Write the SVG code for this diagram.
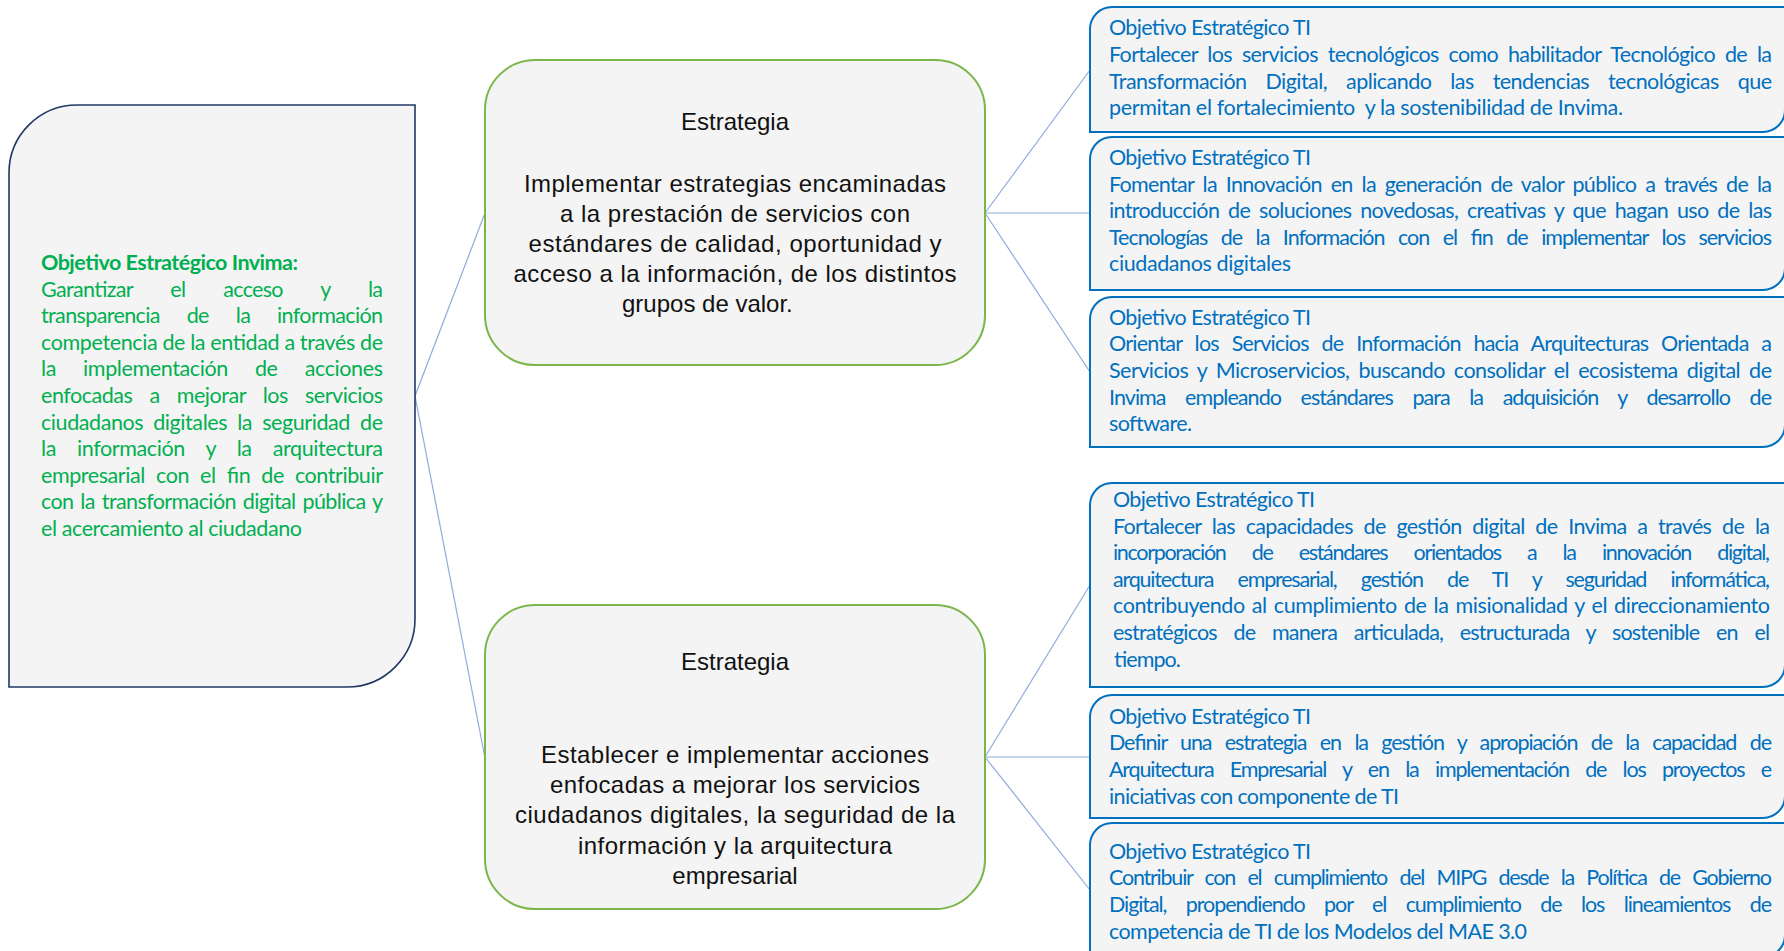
<svg xmlns="http://www.w3.org/2000/svg" width="1784" height="951" viewBox="0 0 1784 951">
<style>
.inv{fill:#F4F4F4;stroke:#1F3864;stroke-width:1.6}
.str{fill:#F4F4F4;stroke:#7AB648;stroke-width:2}
.obj{fill:#F4F4F4;stroke:#0070C0;stroke-width:2}
.conn line{stroke:#8FAADC;stroke-width:1.2;fill:none}
.tg{font-family:Lato,"Noto Sans",sans-serif;font-size:21.5px;fill:#00B050}
.tb{font-family:Lato,"Noto Sans",sans-serif;font-size:21.5px;fill:#0070C0}
.ts{font-family:"Liberation Sans",Arial,sans-serif;font-size:24px;fill:#111111;text-anchor:middle}
.bold{font-weight:bold}
</style>
<rect width="1784" height="951" fill="#FFFFFF"/>
<g id="connectors" class="conn">
<line x1="415" y1="396" x2="485" y2="213"/>
<line x1="415" y1="396" x2="485" y2="758"/>
<line x1="985" y1="213" x2="1090" y2="70"/>
<line x1="985" y1="213" x2="1090" y2="213"/>
<line x1="985" y1="213" x2="1090" y2="372"/>
<line x1="985" y1="757" x2="1090" y2="585"/>
<line x1="985" y1="757" x2="1090" y2="757"/>
<line x1="985" y1="757" x2="1090" y2="890"/>
</g>
<g id="objetivo-invima">
<path class="inv" d="M77,105 H415 V619 A68,68 0 0 1 347,687 H9 V173 A68,68 0 0 1 77,105 Z"/>
<text class="tg bold" x="41" y="270" textLength="257">Objetivo Estratégico Invima:</text>
<text class="tg" x="41" y="296.6" textLength="342" word-spacing="33">Garantizar el acceso y la</text>
<text class="tg" x="41" y="323.2" textLength="342" word-spacing="22">transparencia de la información</text>
<text class="tg" x="41" y="349.8" textLength="342">competencia de la entidad a través de</text>
<text class="tg" x="41" y="376.4" textLength="342" word-spacing="22">la implementación de acciones</text>
<text class="tg" x="41" y="403" textLength="342" word-spacing="12">enfocadas a mejorar los servicios</text>
<text class="tg" x="41" y="429.6" textLength="342" word-spacing="5">ciudadanos digitales la seguridad de</text>
<text class="tg" x="41" y="456.2" textLength="342" word-spacing="16">la información y la arquitectura</text>
<text class="tg" x="41" y="482.8" textLength="342" word-spacing="6">empresarial con el fin de contribuir</text>
<text class="tg" x="41" y="509.4" textLength="342" word-spacing="2">con la transformación digital pública y</text>
<text class="tg" x="41" y="536" textLength="261">el acercamiento al ciudadano</text>
</g>
<g id="estrategia-1">
<rect class="str" x="485" y="60" width="500" height="305" rx="50" ry="50"/>
<text class="ts" x="735" y="130.3">Estrategia</text>
<text class="ts" x="735" y="192" textLength="422">Implementar estrategias encaminadas</text>
<text class="ts" x="735" y="222" textLength="350">a la prestación de servicios con</text>
<text class="ts" x="735" y="252" textLength="413">estándares de calidad, oportunidad y</text>
<text class="ts" x="735" y="282" textLength="443">acceso a la información, de los distintos</text>
<text class="ts" x="622" y="312" style="text-anchor:start">grupos de valor.</text>
</g>
<g id="estrategia-2">
<rect class="str" x="485" y="605" width="500" height="304" rx="50" ry="50"/>
<text class="ts" x="735" y="670.3">Estrategia</text>
<text class="ts" x="735" y="762.6" textLength="388">Establecer e implementar acciones</text>
<text class="ts" x="735" y="792.9" textLength="370">enfocadas a mejorar los servicios</text>
<text class="ts" x="735" y="823.2" textLength="440">ciudadanos digitales, la seguridad de la</text>
<text class="ts" x="735" y="853.5" textLength="314">información y la arquitectura</text>
<text class="ts" x="735" y="883.8">empresarial</text>
</g>
<g id="objetivo-ti-1">
<path class="obj" d="M1112,7 H1785 V110 A22,22 0 0 1 1763,132 H1090 V29 A22,22 0 0 1 1112,7 Z"/>
<text class="tb" x="1109" y="35" textLength="202">Objetivo Estratégico TI</text>
<text class="tb" x="1109" y="62" textLength="663" word-spacing="5">Fortalecer los servicios tecnológicos como habilitador Tecnológico de la</text>
<text class="tb" x="1109" y="88.7" textLength="663" word-spacing="14">Transformación Digital, aplicando las tendencias tecnológicas que</text>
<text class="tb" x="1109" y="115.3" textLength="514" xml:space="preserve">permitan el fortalecimiento  y la sostenibilidad de Invima.</text>
</g>
<g id="objetivo-ti-2">
<path class="obj" d="M1112,137 H1785 V268 A22,22 0 0 1 1763,290 H1090 V159 A22,22 0 0 1 1112,137 Z"/>
<text class="tb" x="1109" y="165" textLength="202">Objetivo Estratégico TI</text>
<text class="tb" x="1109" y="191.6" textLength="663" word-spacing="4">Fomentar la Innovación en la generación de valor público a través de la</text>
<text class="tb" x="1109" y="218.2" textLength="663" word-spacing="4">introducción de soluciones novedosas, creativas y que hagan uso de las</text>
<text class="tb" x="1109" y="244.8" textLength="663" word-spacing="9">Tecnologías de la Información con el fin de implementar los servicios</text>
<text class="tb" x="1109" y="271.4" textLength="182">ciudadanos digitales</text>
</g>
<g id="objetivo-ti-3">
<path class="obj" d="M1112,297 H1785 V425 A22,22 0 0 1 1763,447 H1090 V319 A22,22 0 0 1 1112,297 Z"/>
<text class="tb" x="1109" y="324.7" textLength="202">Objetivo Estratégico TI</text>
<text class="tb" x="1109" y="351.3" textLength="663" word-spacing="8">Orientar los Servicios de Información hacia Arquitecturas Orientada a</text>
<text class="tb" x="1109" y="377.9" textLength="663" word-spacing="4">Servicios y Microservicios, buscando consolidar el ecosistema digital de</text>
<text class="tb" x="1109" y="404.5" textLength="663" word-spacing="15">Invima empleando estándares para la adquisición y desarrollo de</text>
<text class="tb" x="1109" y="431.1" textLength="83">software.</text>
</g>
<g id="objetivo-ti-4">
<path class="obj" d="M1112,483 H1785 V665 A22,22 0 0 1 1763,687 H1090 V505 A22,22 0 0 1 1112,483 Z"/>
<text class="tb" x="1113" y="507" textLength="202">Objetivo Estratégico TI</text>
<text class="tb" x="1113" y="533.6" textLength="657" word-spacing="6">Fortalecer las capacidades de gestión digital de Invima a través de la</text>
<text class="tb" x="1113" y="560.2" textLength="657" word-spacing="22">incorporación de estándares orientados a la innovación digital,</text>
<text class="tb" x="1113" y="586.8" textLength="657" word-spacing="20">arquitectura empresarial, gestión de TI y seguridad informática,</text>
<text class="tb" x="1113" y="613.4" textLength="657" word-spacing="2">contribuyendo al cumplimiento de la misionalidad y el direccionamiento</text>
<text class="tb" x="1113" y="640" textLength="657" word-spacing="12">estratégicos de manera articulada, estructurada y sostenible en el</text>
<text class="tb" x="1113" y="666.6" textLength="67">tiempo.</text>
</g>
<g id="objetivo-ti-5">
<path class="obj" d="M1112,695 H1785 V796 A22,22 0 0 1 1763,818 H1090 V717 A22,22 0 0 1 1112,695 Z"/>
<text class="tb" x="1109" y="723.7" textLength="202">Objetivo Estratégico TI</text>
<text class="tb" x="1109" y="750.3" textLength="663" word-spacing="9">Definir una estrategia en la gestión y apropiación de la capacidad de</text>
<text class="tb" x="1109" y="776.9" textLength="663" word-spacing="12">Arquitectura Empresarial y en la implementación de los proyectos e</text>
<text class="tb" x="1109" y="803.5" textLength="290">iniciativas con componente de TI</text>
</g>
<g id="objetivo-ti-6">
<path class="obj" d="M1112,823 H1785 V935 A22,22 0 0 1 1763,957 H1090 V845 A22,22 0 0 1 1112,823 Z"/>
<text class="tb" x="1109" y="858.7" textLength="202">Objetivo Estratégico TI</text>
<text class="tb" x="1109" y="885.3" textLength="663" word-spacing="8">Contribuir con el cumplimiento del MIPG desde la Política de Gobierno</text>
<text class="tb" x="1109" y="911.9" textLength="663" word-spacing="15">Digital, propendiendo por el cumplimiento de los lineamientos de</text>
<text class="tb" x="1109" y="938.5" textLength="418">competencia de TI de los Modelos del MAE 3.0</text>
</g>
</svg>
